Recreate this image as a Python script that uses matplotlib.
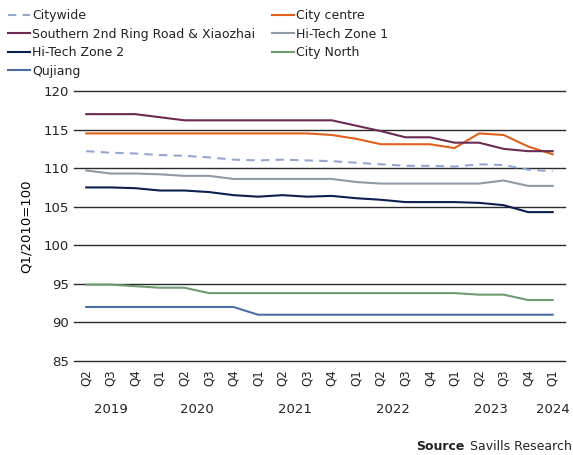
import matplotlib
matplotlib.use("Agg")
import matplotlib.pyplot as plt
from matplotlib.transforms import blended_transform_factory

quarters = ["Q2", "Q3", "Q4",
            "Q1", "Q2", "Q3", "Q4",
            "Q1", "Q2", "Q3", "Q4",
            "Q1", "Q2", "Q3", "Q4",
            "Q1", "Q2", "Q3", "Q4",
            "Q1"]
years = ["2019", "2020", "2021", "2022", "2023", "2024"]
year_centres = [1, 4.5, 8.5, 12.5, 16.5, 19]

citywide = [112.2, 112.0, 111.9, 111.7, 111.6, 111.4, 111.1, 111.0, 111.1, 111.0,
            110.9, 110.7, 110.5, 110.3, 110.3, 110.2, 110.5, 110.4, 109.8, 109.6]
city_centre = [114.5, 114.5, 114.5, 114.5, 114.5, 114.5, 114.5, 114.5, 114.5, 114.5,
               114.3, 113.8, 113.1, 113.1, 113.1, 112.6, 114.5, 114.3, 112.8, 111.8]
southern = [117.0, 117.0, 117.0, 116.6, 116.2, 116.2, 116.2, 116.2, 116.2, 116.2,
            116.2, 115.5, 114.8, 114.0, 114.0, 113.3, 113.3, 112.5, 112.2, 112.2]
htz1 = [109.7, 109.3, 109.3, 109.2, 109.0, 109.0, 108.6, 108.6, 108.6, 108.6,
        108.6, 108.2, 108.0, 108.0, 108.0, 108.0, 108.0, 108.4, 107.7, 107.7]
htz2 = [107.5, 107.5, 107.4, 107.1, 107.1, 106.9, 106.5, 106.3, 106.5, 106.3,
        106.4, 106.1, 105.9, 105.6, 105.6, 105.6, 105.5, 105.2, 104.3, 104.3]
city_north = [94.9, 94.9, 94.7, 94.5, 94.5, 93.8, 93.8, 93.8, 93.8, 93.8,
              93.8, 93.8, 93.8, 93.8, 93.8, 93.8, 93.6, 93.6, 92.9, 92.9]
qujiang = [92.0, 92.0, 92.0, 92.0, 92.0, 92.0, 92.0, 91.0, 91.0, 91.0,
           91.0, 91.0, 91.0, 91.0, 91.0, 91.0, 91.0, 91.0, 91.0, 91.0]

plt.rcParams.update({"font.family": "DejaVu Sans", "text.color": "#222222"})

fig = plt.figure(figsize=(5.73, 4.55), dpi=100)
ax = fig.add_axes([0.129, 0.2066, 0.857, 0.5934])

x = list(range(len(quarters)))
series = [
    ("Citywide", citywide, "#93a7cf", "--"),
    ("City centre", city_centre, "#e0601c", "-"),
    ("Southern 2nd Ring Road & Xiaozhai", southern, "#6b2a52", "-"),
    ("Hi-Tech Zone 1", htz1, "#8e9aa6", "-"),
    ("Hi-Tech Zone 2", htz2, "#0d1f50", "-"),
    ("City North", city_north, "#6f9a72", "-"),
    ("Qujiang", qujiang, "#4d6ea3", "-"),
]
lines = {}
for name, vals, color, ls in series:
    ln, = ax.plot(x, vals, color=color, linestyle=ls, linewidth=1.5, label=name,
                  dashes=(4, 3) if ls == "--" else (None, None))
    lines[name] = ln

ax.set_ylim(85, 120)
ax.set_yticks(range(85, 121, 5))
ax.set_xlim(-0.5, 19.5)
ax.set_xticks(x)
ax.set_xticklabels(quarters, rotation=90, fontsize=8.5)
ax.tick_params(axis="both", length=0, labelsize=9.5, colors="#222222")
ax.tick_params(axis="x", labelsize=8.5, pad=6)
ax.grid(axis="y", color="#2a2a2a", linewidth=1.0)
ax.set_axisbelow(True)
for g in ax.get_ygridlines():
    g.set_clip_on(False)
for s in ax.spines.values():
    s.set_visible(False)
ax.set_ylabel("Q1/2010=100", fontsize=9.5, labelpad=8)

trans = blended_transform_factory(ax.transData, ax.transAxes)
for yr, xc in zip(years, year_centres):
    ax.text(xc, -0.178, yr, transform=trans, ha="center", va="center", fontsize=9.5)

order = ["Citywide", "Southern 2nd Ring Road & Xiaozhai", "Hi-Tech Zone 2", "Qujiang",
         "City centre", "Hi-Tech Zone 1", "City North"]
fig.legend([lines[n] for n in order], order, ncol=2, loc="upper left",
           bbox_to_anchor=(-0.006, 1.005), frameon=False, fontsize=9,
           handlelength=1.8, handletextpad=0.15, columnspacing=1.3,
           labelspacing=0.45)

t2 = fig.text(0.998, 0.018, "Savills Research", ha="right", va="center", fontsize=9)
fig.canvas.draw()
bb = t2.get_window_extent()
fig.text((bb.x0 - 5) / fig.bbox.width, 0.018, "Source", ha="right", va="center",
         fontsize=9, fontweight="bold")

fig.savefig("out.png", dpi=100)
